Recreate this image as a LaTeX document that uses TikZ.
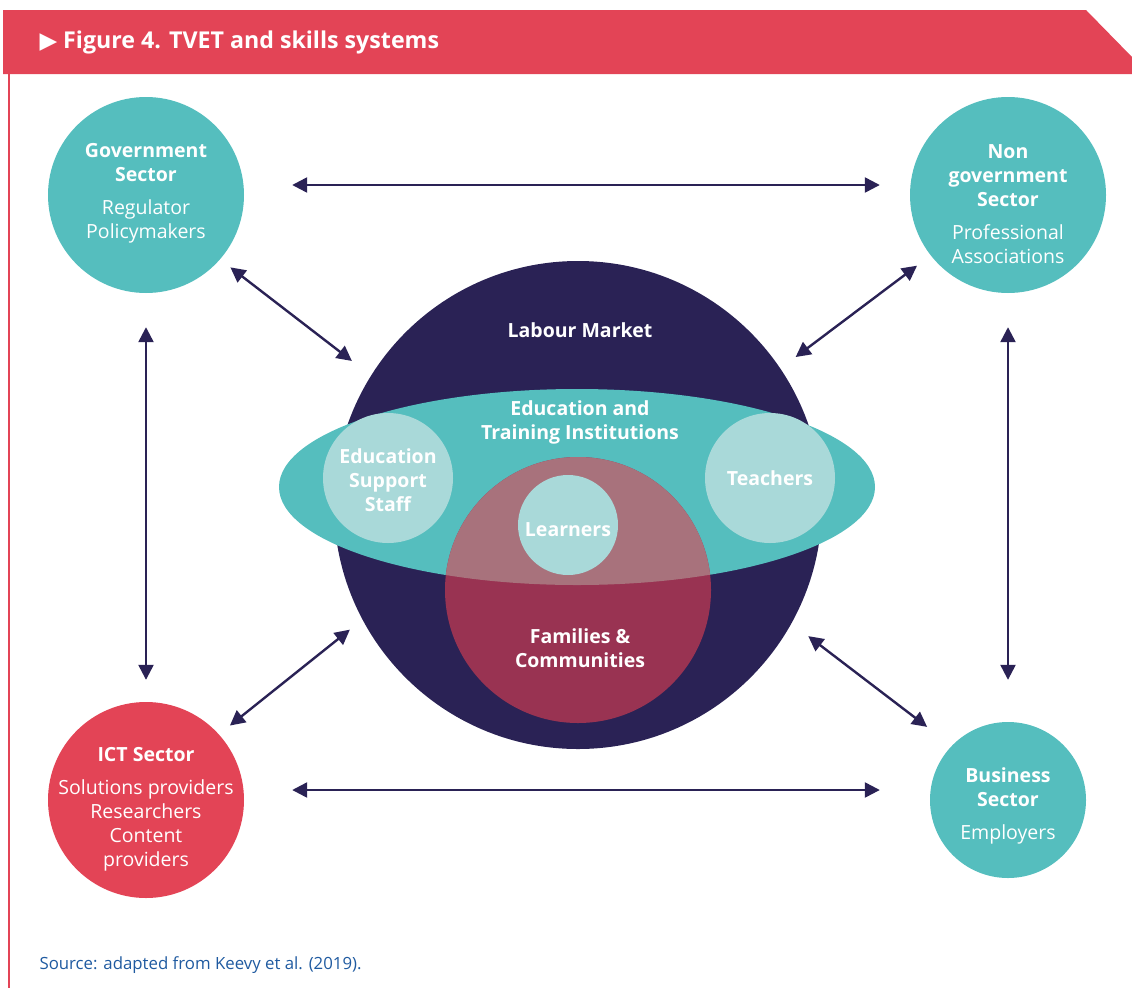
\documentclass[tikz,border=0pt]{standalone}
\usepackage{fontspec}
\setmainfont{Open Sans}
\newfontfamily\trifont{DejaVu Sans}
\usetikzlibrary{shapes.geometric,arrows.meta,positioning}
\definecolor{tvetred}{HTML}{E34456}
\definecolor{tvetteal}{HTML}{55BEBE}
\definecolor{paleteal}{HTML}{A9D9D9}
\definecolor{navy}{HTML}{2A2255}
\definecolor{crimson}{HTML}{993352}
\definecolor{mauve}{HTML}{A8727C}
\definecolor{srcblue}{HTML}{1F5AA0}
\newcommand{\hd}[1]{\textbf{#1}}

\begin{document}
\begin{tikzpicture}[x=1pt, y=-1pt,
  sector/.style={circle, minimum size=196pt, inner sep=0pt},
  member/.style={circle, fill=paleteal, minimum size=130pt, inner sep=0pt},
  label txt/.style={text=white, align=center, font=\fontsize{19.5}{24}\selectfont},
  bold txt/.style={label txt, font=\bfseries\fontsize{19.5}{24}\selectfont},
  link/.style={{Triangle[length=15pt,width=15pt]}-{Triangle[length=15pt,width=15pt]}, line width=2.4pt, draw=navy}]
  \useasboundingbox (0,0) rectangle (1132,988);

  % header band
  \fill[tvetred] (3,10) -- (1086,10) -- (1132,57) -- (1132,74) -- (3,74) -- cycle;
  \node[anchor=west, text=white, font=\bfseries\fontsize{23.2}{26}\selectfont] (title) at (36,42)
    {{\trifont\fontsize{23}{24}\selectfont ▶}\hspace{6pt}Figure 4. TVET and skills systems};
  \draw[tvetred, line width=1.2pt] (9,74) -- (9,988);

  % centre
  \node[circle, fill=navy, minimum size=488pt, inner sep=0pt] (lab) at (578,505) {};
  \node[ellipse, fill=tvetteal, minimum width=596pt, minimum height=196pt, inner sep=0pt] (eti) at (577,487) {};
  \node[circle, fill=crimson, minimum size=266pt, inner sep=0pt] (fam) at (578,590) {};
  \begin{scope}
    \clip (577,487) ellipse (298pt and 98pt);
    \fill[mauve] (578,590) circle (133pt);
  \end{scope}
  \node[member] (staff) at (388,478) {};
  \node[member] (teach) at (770,478) {};
  \node[member, minimum size=100pt] (learn) at (568,525) {};

  \node[bold txt] (labtxt) at (580,330) {Labour Market};
  \node[bold txt] (etitxt) at (580,422) {Education and\\Training Institutions};
  \node[bold txt] (stafftxt) at (388,480) {Education\\Support\\Staff};
  \node[bold txt] (teachtxt) at (770,478) {Teachers};
  \node[bold txt] (learntxt) at (568,530) {Learners};
  \node[bold txt] (famtxt) at (580,648) {Families \&\\Communities};

  % sectors
  \node[sector, fill=tvetteal] (gov) at (146,195) {};
  \node[sector, fill=tvetteal] (ngo) at (1008,195) {};
  \node[sector, fill=tvetred] (ict) at (146,800) {};
  \node[sector, fill=tvetteal, minimum size=156pt] (biz) at (1008,800) {};

  \node[label txt] (govtxt) at (146,193) {\hd{Government}\\\hd{Sector}\\[9pt]Regulator\\Policymakers};
  \node[label txt] (ngotxt) at (1008,204) {\hd{Non}\\\hd{government}\\\hd{Sector}\\[9pt]Professional\\Associations};
  \node[label txt] (icttxt) at (146,809) {\hd{ICT Sector}\\[9pt]Solutions providers\\Researchers\\Content\\providers};
  \node[label txt] (biztxt) at (1008,806) {\hd{Business}\\\hd{Sector}\\[9pt]Employers};

  % links
  \draw[link, shorten <=48pt, shorten >=30pt] ([yshift=10pt]gov.east) -- ([yshift=10pt]ngo.west);
  \draw[link, shorten <=48pt, shorten >=50pt] ([yshift=10pt]ict.east) -- ([yshift=10pt]biz.west);
  \draw[link, shorten <=34pt, shorten >=22pt] (gov.south) -- (ict.north);
  \draw[link, shorten <=34pt, shorten >=42pt] (ngo.south) -- (biz.north);
  \draw[link, shorten <=13pt, shorten >=24pt] (gov.-41) -- (lab.148);
  \draw[link, shorten <=17pt, shorten >=19pt] (ngo.218) -- (lab.34);
  \draw[link, shorten <=14pt, shorten >=16pt] (ict.42) -- (lab.208);
  \draw[link, shorten <=21pt, shorten >=31pt] (lab.-29) -- (biz.136);

  \node[anchor=west, text=srcblue, font=\fontsize{16.8}{20}\selectfont] (src) at (36,965) {Source: adapted from Keevy et al. (2019).};
\end{tikzpicture}
\end{document}
